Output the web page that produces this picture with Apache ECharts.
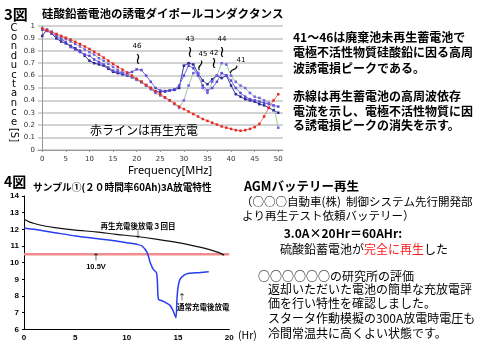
<!DOCTYPE html>
<html>
<head>
<meta charset="utf-8">
<script src="https://cdn.jsdelivr.net/npm/echarts@6/dist/echarts.min.js"></script>
<style>html,body{margin:0;padding:0;background:#fff}#main{width:480px;height:354px}</style>
</head>
<body>
<div id="main"></div>
<script>
// 3図 周波数[MHz]とコンダクタンス[S]
var freq = [0,1,2,3,4,5,6,7,8,9,10,11,12,13,14,15,16,17,18,19,20,21,22,23,24,25,26,27,28,29,30,31,32,33,34,35,36,37,38,39,40,41,42,43,44,45,46,47,48,49,50];
var regenRed = [0.98,0.965,0.95,0.935,0.92,0.905,0.89,0.872,0.855,0.835,0.815,0.793,0.77,0.745,0.72,0.695,0.67,0.648,0.625,0.6,0.575,0.55,0.525,0.5,0.475,0.45,0.425,0.4,0.375,0.35,0.33,0.31,0.29,0.27,0.25,0.235,0.22,0.205,0.19,0.18,0.17,0.16,0.155,0.16,0.17,0.185,0.21,0.27,0.34,0.4,0.45];
var cellNavy = [0.92,0.97,0.94,0.9,0.875,0.86,0.84,0.82,0.8,0.76,0.72,0.7,0.69,0.68,0.655,0.63,0.62,0.61,0.6,0.59,0.57,0.55,0.52,0.5,0.47,0.47,0.475,0.48,0.485,0.5,0.68,0.7,0.69,0.62,0.56,0.53,0.57,0.6,0.58,0.6,0.52,0.45,0.43,0.41,0.4,0.39,0.37,0.36,0.34,0.32,0.3];
var cellViolet = [0.97,0.96,0.94,0.92,0.895,0.87,0.83,0.81,0.79,0.77,0.76,0.73,0.71,0.69,0.665,0.64,0.63,0.62,0.62,0.63,0.65,0.645,0.6,0.55,0.5,0.48,0.47,0.48,0.49,0.52,0.6,0.68,0.66,0.6,0.52,0.48,0.5,0.55,0.62,0.6,0.56,0.5,0.46,0.43,0.41,0.4,0.39,0.38,0.37,0.36,0.35];
var cellGreen = [0.98,0.97,0.955,0.935,0.915,0.895,0.875,0.855,0.835,0.81,0.79,0.77,0.74,0.72,0.695,0.67,0.645,0.625,0.605,0.585,0.565,0.545,0.52,0.49,0.46,0.44,0.42,0.4,0.37,0.34,0.4,0.52,0.62,0.62,0.5,0.46,0.55,0.6,0.7,0.69,0.6,0.55,0.52,0.5,0.46,0.43,0.42,0.4,0.38,0.36,0.18];
var freqTicks = [0,5,10,15,20,25,30,35,40,45,50];

// 4図 放電特性 (時間[Hr], 電圧[V])
var blackHours = [0,0.5,1,2,3,5,7,9,11,13,15,17,18,19,19.5];
var blackVolts = [12.6,12.45,12.35,12.2,12.1,11.95,11.85,11.7,11.57,11.4,11.2,10.95,10.8,10.6,10.45];
var blueHours = [0,0.3,1,3,5,7,9,10,11,11.5,12,12.3,12.6,12.9,13.0,13.1,13.5,14.2,14.5,14.8,14.9,15.0,15.2,15.6,16,17,18];
var blueVolts = [12.1,12.05,12.0,11.8,11.6,11.45,11.3,11.2,11.1,11.0,10.6,10.0,9.6,9.4,8.8,7.8,7.7,7.45,7.15,6.7,7.8,8.5,9.0,9.25,9.35,9.4,9.45];
var cutHours = [0,20];
var cutVolts = [10.5,10.5];

function pairs(xs, ys){ return xs.map(function(x,i){ return [x, ys[i]]; }); }

var jp = '"Noto Sans CJK JP", sans-serif';
var dv = '"DejaVu Sans", sans-serif';
function txt(x, y, s, size, opt){
  opt = opt || {};
  return {
    type:'text', x:x, y:y, rotation: opt.rot || 0,
    style:{
      text:s, fill: opt.fill || '#000',
      font: (opt.weight || 'bold') + ' ' + size + 'px ' + (opt.family || jp),
      textAlign: opt.align || 'left', textVerticalAlign:'middle',
      lineHeight: opt.lh, rich: opt.rich
    },
    z:100
  };
}
function peak(x, y, s){ return txt(x, y, s, 7, {align:'center', weight:'normal', family:dv}); }
function brace(x, y, rot){ return txt(x, y, '≀', 16, {align:'center', weight:'normal', family:dv, rot:rot || 0}); }

var chart = echarts.init(document.getElementById('main'));
var option = {
  backgroundColor:'#fff',
  animation:false,
  grid:[
    {left:38, right:197, top:26, bottom:204},
    {left:24, right:250.7, top:196, bottom:24.7}
  ],
  xAxis:[
    {
      gridIndex:0, type:'value', min:-0.9, max:51,
      axisLine:{show:true, lineStyle:{color:'#999', width:1}},
      axisTick:{show:true, customValues:freqTicks, length:2, lineStyle:{color:'#999'}},
      axisLabel:{customValues:freqTicks, fontSize:7, color:'#333', margin:6, fontFamily:'DejaVu Sans'},
      splitLine:{show:false}
    },
    {
      gridIndex:1, type:'value', min:0, max:20, interval:5,
      axisLine:{show:true, lineStyle:{color:'#000', width:1}},
      axisTick:{show:false},
      axisLabel:{fontSize:8, fontWeight:'bold', color:'#000', margin:4, fontFamily:'Liberation Sans'},
      splitLine:{show:false}
    }
  ],
  yAxis:[
    {
      gridIndex:0, type:'value', min:0, max:1, interval:0.1,
      axisLine:{show:true, lineStyle:{color:'#999', width:1}},
      axisTick:{show:false},
      axisLabel:{fontSize:7, color:'#333', margin:3, fontFamily:'DejaVu Sans',
        formatter:function(v){ return (v===0||v===1) ? String(v) : v.toFixed(1); }},
      splitLine:{show:true, lineStyle:{color:'#c4c4c4', width:1.5}}
    },
    {
      gridIndex:1, type:'value', min:6, max:14, interval:1,
      axisLine:{show:true, lineStyle:{color:'#000', width:1}},
      axisTick:{show:true, length:2, lineStyle:{color:'#000'}},
      axisLabel:{fontSize:8, fontWeight:'bold', color:'#000', margin:5, fontFamily:'Liberation Sans'},
      splitLine:{show:false}
    }
  ],
  series:[
    {
      name:'再生', type:'line', xAxisIndex:0, yAxisIndex:0,
      data:pairs(freq, regenRed), symbol:'rect', symbolSize:2.5,
      itemStyle:{color:'#e42a20'}, lineStyle:{color:'#f07a70', width:1}, z:5
    },
    {
      name:'43', type:'line', xAxisIndex:0, yAxisIndex:0,
      data:pairs(freq, cellNavy), symbol:'rect', symbolSize:2.5,
      itemStyle:{color:'#2a2a8c'}, lineStyle:{color:'#3a3aa0', width:1}, z:4
    },
    {
      name:'46', type:'line', xAxisIndex:0, yAxisIndex:0,
      data:pairs(freq, cellViolet), symbol:'rect', symbolSize:2.5,
      itemStyle:{color:'#5b4ad8'}, lineStyle:{color:'#7566e0', width:1}, z:4
    },
    {
      name:'45', type:'line', xAxisIndex:0, yAxisIndex:0,
      data:pairs(freq, cellGreen), symbol:'rect', symbolSize:2.5,
      itemStyle:{color:'#7a5cf0'}, lineStyle:{color:'#98c898', width:1}, z:4
    },
    {
      name:'10.5V', type:'line', xAxisIndex:1, yAxisIndex:1,
      data:pairs(cutHours, cutVolts), symbol:'none',
      lineStyle:{color:'#f28c8c', width:2.5}, z:2
    },
    {
      name:'再生充電後放電３回目', type:'line', xAxisIndex:1, yAxisIndex:1,
      data:pairs(blackHours, blackVolts), symbol:'none', smooth:0.3,
      lineStyle:{color:'#111', width:1.2}, z:3
    },
    {
      name:'通常充電後放電', type:'line', xAxisIndex:1, yAxisIndex:1,
      data:pairs(blueHours, blueVolts), symbol:'none', smooth:0.25,
      lineStyle:{color:'#2a3cf0', width:1.5}, z:3
    }
  ],
  graphic:[
    txt(4, 14, '3図', 15),
    txt(42, 14, '硅酸鉛蓄電池の誘電ダイポールコンダクタンス', 11.5),
    txt(14, 75, 'C\no\nn\nd\nu\nc\nt\na\nn\nc\ne', 10, {align:'center', weight:'normal', family:dv, lh:9.4}),
    txt(14, 135, '[S]', 10, {align:'center', weight:'normal', family:dv, rot:-Math.PI/2}),
    txt(170, 171, 'Frequency[MHz]', 11, {align:'center', weight:'normal', family:'"Noto Sans", sans-serif'}),
    txt(90, 130, '赤ラインは再生充電', 12, {weight:'normal'}),
    peak(137, 46, '46'), brace(138, 60),
    peak(190, 39, '43'), brace(190, 53),
    peak(203, 54, '45'), brace(200, 66, -0.35),
    peak(214, 53, '42'), brace(214, 64),
    peak(222, 39, '44'), brace(222, 53),
    peak(241, 60, '41'), brace(233, 70, -0.85),

    txt(293, 37, '41～46は廃棄池未再生蓄電池で', 12),
    txt(293, 52.5, '電極不活性物質硅酸鉛に因る高周', 12),
    txt(293, 68, '波誘電損ピークである。', 12),
    txt(293, 96.5, '赤線は再生蓄電池の高周波依存', 12),
    txt(293, 111, '電流を示し、電極不活性物質に因', 12),
    txt(293, 125.5, 'る誘電損ピークの消失を示す。', 12),

    txt(4, 182, '4図', 14),
    txt(33, 187, 'サンプル①(２０時間率60Ah)3A放電特性', 9.7),
    txt(138, 226, '再生充電後放電３回目', 7.5, {align:'center'}),
    txt(138, 234, '↓', 8, {align:'center', weight:'normal'}),
    txt(96, 257, '↑', 8, {align:'center', weight:'normal'}),
    txt(96, 267, '10.5V', 7.5, {align:'center', family:'"Liberation Sans", sans-serif'}),
    txt(182, 297, '↑', 8, {align:'center', weight:'normal'}),
    txt(177, 307, '通常充電後放電', 7.5),
    txt(238, 335, '(Hr)', 10.5, {weight:'normal'}),

    txt(244, 186, 'AGMバッテリー再生', 12.5),
    txt(241, 201.5, '（○○○自動車(株)  制御システム先行開発部', 11.5, {weight:'normal'}),
    txt(242, 215.5, 'より再生テスト依頼バッテリー）', 11.5, {weight:'normal'}),
    txt(343, 233, '3.0A×20Hr＝60AHr:', 12, {align:'center'}),
    txt(280, 249, '{a|硫酸鉛蓄電池が}{r|完全に再生}{a|した}', 12, {
      weight:'normal',
      rich:{
        a:{fill:'#000', font:'normal 12px ' + jp},
        r:{fill:'#ff1a1a', font:'normal 12px ' + jp}
      }
    }),
    txt(258, 276, '○○○○○○の研究所の評価', 12, {weight:'normal'}),
    txt(268, 289, '返却いただいた電池の簡単な充放電評', 12, {weight:'normal'}),
    txt(268, 303.5, '価を行い特性を確認しました。', 12, {weight:'normal'}),
    txt(268, 318, 'スタータ作動模擬の300A放電時電圧も', 12, {weight:'normal'}),
    txt(268, 333, '冷間常温共に高くよい状態です。', 12, {weight:'normal'})
  ]
};
chart.setOption(option);
</script>
</body>
</html>
